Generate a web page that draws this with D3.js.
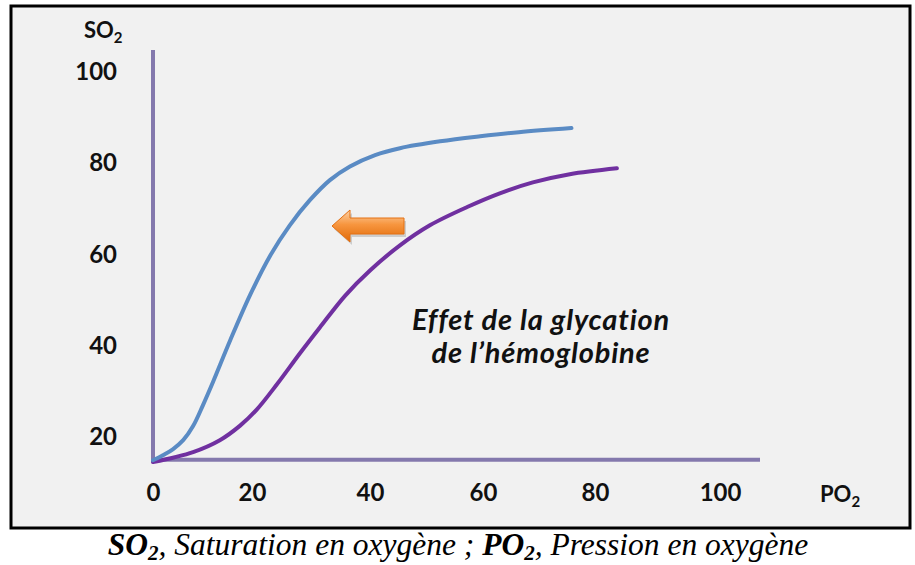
<!DOCTYPE html>
<html>
<head>
<meta charset="utf-8">
<script src="https://cdn.jsdelivr.net/npm/d3@7"></script>
<style>
  body { margin: 0; background: #fff; }
  svg { display: block; }
</style>
</head>
<body>
<div id="chart"></div>
<script>
// Courbes de dissociation SO2 / PO2

// Data
var xTicks = [0, 20, 40, 60, 80, 100]
var yTicks = [20, 40, 60, 80, 100]

// normal curve (blue)
var normPO2 = [0, 2, 4, 6.1, 8.1, 10.1, 12.1, 15.6, 19.6, 23.1, 26.4, 29.8, 33.2, 36.6, 40.9, 45.3, 52.4, 59.5, 66.4, 75.8]
var normSO2 = [14.9, 16, 17.3, 19.3, 22.4, 27, 32, 41.2, 51.1, 59.8, 66.4, 71.9, 76.3, 79.3, 81.8, 83.3, 84.8, 85.9, 86.8, 87.7]

// glycated haemoglobin curve (purple)
var glycPO2 = [0, 8.1, 13.5, 17.6, 20.8, 24.2, 28.1, 31.5, 35.8, 40, 45.3, 50.6, 57.2, 63, 68.9, 75.5, 83.5]
var glycSO2 = [14.5, 16.7, 19.3, 22.5, 26, 31.5, 38.3, 44, 51, 56.5, 62, 66.4, 70.4, 73.4, 75.8, 77.6, 78.9]

var axisStart = { x: 0, y: 15 }
var axisEnd = { x: 106.4, y: 104.8 }

var width = 915
var height = 565

var svg = d3.select('#chart')
  .append('svg')
  .attr('width', width)
  .attr('height', height)

// frame
svg.append('rect')
  .attr('x', 11).attr('y', 6)
  .attr('width', 899).attr('height', 522)
  .attr('fill', '#f1f1f1')
  .attr('stroke', '#000')
  .attr('stroke-width', 3)

// scales (x labels are not evenly spaced on the slide)
var x = d3.scaleLinear().domain(xTicks).range([153, 252, 370, 483, 595, 720])
var y = d3.scaleLinear().domain([20, 100]).range([437, 72])

var axisColor = '#8479ad'

// axis lines
svg.append('line')
  .attr('x1', x(axisStart.x)).attr('x2', x(axisStart.x))
  .attr('y1', y(axisStart.y) + 2).attr('y2', y(axisEnd.y))
  .attr('stroke', axisColor).attr('stroke-width', 4)

svg.append('line')
  .attr('x1', x(axisStart.x)).attr('x2', x(axisEnd.x))
  .attr('y1', y(axisStart.y)).attr('y2', y(axisStart.y))
  .attr('stroke', axisColor).attr('stroke-width', 4)

// tick labels
var tickFont = 'Lato, "Open Sans", sans-serif'

var yAxis = svg.append('g')
  .attr('transform', 'translate(117,0)')
  .call(d3.axisLeft(y).tickValues(yTicks).tickSize(0).tickPadding(0))
yAxis.select('.domain').remove()
yAxis.selectAll('text')
  .attr('font-family', tickFont)
  .attr('font-weight', 700)
  .attr('font-size', 24)
  .attr('fill', '#111')

var xAxis = svg.append('g')
  .attr('transform', 'translate(0,484)')
  .call(d3.axisBottom(x).tickValues(xTicks).tickSize(0).tickPadding(0))
xAxis.select('.domain').remove()
xAxis.selectAll('text')
  .attr('font-family', tickFont)
  .attr('font-weight', 700)
  .attr('font-size', 24)
  .attr('fill', '#111')

// axis titles
var so2 = svg.append('text')
  .attr('x', 84).attr('y', 38)
  .attr('font-family', tickFont).attr('font-weight', 700)
  .attr('font-size', 22).attr('fill', '#111')
so2.append('tspan').text('SO')
so2.append('tspan').attr('font-size', 15).attr('dy', 5).text('2')

var po2 = svg.append('text')
  .attr('x', 820).attr('y', 502)
  .attr('font-family', tickFont).attr('font-weight', 700)
  .attr('font-size', 22).attr('fill', '#111')
po2.append('tspan').text('PO')
po2.append('tspan').attr('font-size', 15).attr('dy', 5).text('2')

// curves
var line = d3.line()
  .x(d => x(d[0]))
  .y(d => y(d[1]))
  .curve(d3.curveCatmullRom.alpha(0.5))

svg.append('path')
  .datum(d3.zip(glycPO2, glycSO2))
  .attr('d', line)
  .attr('fill', 'none')
  .attr('stroke', '#7030a0')
  .attr('stroke-width', 4)
  .attr('stroke-linecap', 'round')

svg.append('path')
  .datum(d3.zip(normPO2, normSO2))
  .attr('d', line)
  .attr('fill', 'none')
  .attr('stroke', '#5a8bc4')
  .attr('stroke-width', 4)
  .attr('stroke-linecap', 'round')

// orange arrow pointing left
var defs = svg.append('defs')
var grad = defs.append('linearGradient')
  .attr('id', 'orange').attr('x1', 0).attr('x2', 0).attr('y1', 0).attr('y2', 1)
grad.append('stop').attr('offset', '0%').attr('stop-color', '#fcd1a6')
grad.append('stop').attr('offset', '45%').attr('stop-color', '#f7963f')
grad.append('stop').attr('offset', '100%').attr('stop-color', '#e06a08')

var ax = 332, ay = 226
var arrowPts = [
  [ax, ay], [ax + 18, ay - 16], [ax + 18, ay - 8], [ax + 72, ay - 8],
  [ax + 72, ay + 8], [ax + 18, ay + 8], [ax + 18, ay + 16]
]
svg.append('polygon')
  .attr('points', arrowPts.map(p => p.join(',')).join(' '))
  .attr('transform', 'translate(2,3)')
  .attr('fill', '#000').attr('opacity', 0.15)
svg.append('polygon')
  .attr('points', arrowPts.map(p => p.join(',')).join(' '))
  .attr('fill', 'url(#orange)')
  .attr('stroke', '#e47012').attr('stroke-width', 1)

// annotation
var note = svg.append('text')
  .attr('x', 541).attr('y', 330)
  .attr('text-anchor', 'middle')
  .attr('font-family', tickFont).attr('font-weight', 700)
  .attr('font-style', 'italic').attr('font-size', 29)
  .attr('letter-spacing', 0.8).attr('fill', '#111')
note.append('tspan').attr('x', 541).text('Effet de la glycation')
note.append('tspan').attr('x', 541).attr('dy', 33).text('de l\u2019hémoglobine')

// caption
var cap = svg.append('text')
  .attr('x', 458).attr('y', 555)
  .attr('text-anchor', 'middle')
  .attr('font-family', '"Liberation Serif", "Times New Roman", serif')
  .attr('font-style', 'italic').attr('font-size', 31.5).attr('fill', '#000')
cap.append('tspan').attr('font-weight', 700).text('SO')
cap.append('tspan').attr('font-weight', 700).attr('font-size', 21).attr('dy', 5).text('2')
cap.append('tspan').attr('dy', -5).text(', Saturation en oxygène ; ')
cap.append('tspan').attr('font-weight', 700).text('PO')
cap.append('tspan').attr('font-weight', 700).attr('font-size', 21).attr('dy', 5).text('2')
cap.append('tspan').attr('dy', -5).text(', Pression en oxygène')
</script>
</body>
</html>
